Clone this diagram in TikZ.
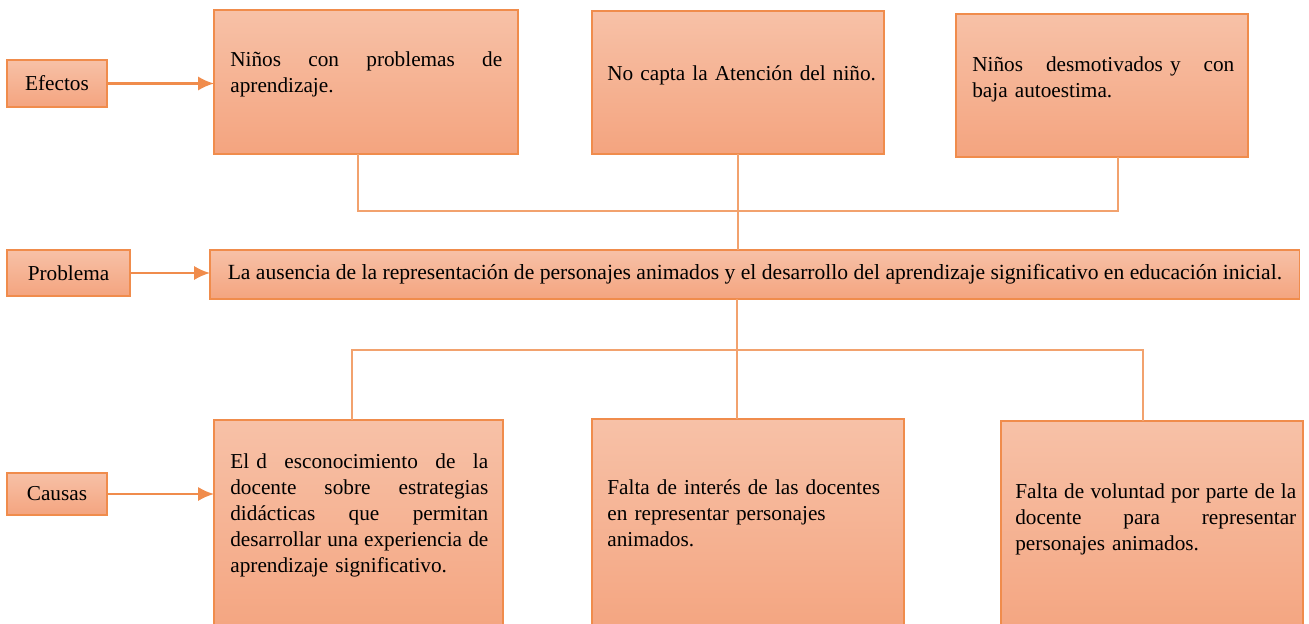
\documentclass[tikz,border=0pt]{standalone}
\usepackage{fontspec}
\setmainfont{Liberation Serif}
\usepackage{xcolor}
\usetikzlibrary{arrows.meta}

\definecolor{boxtop}{HTML}{F7C1A7}
\definecolor{boxbot}{HTML}{F4A47F}
\definecolor{boxline}{HTML}{F08C4C}
\definecolor{linkline}{HTML}{F2A26E}

\newcommand{\jline}[2]{\leavevmode\hbox to #1{#2}}

\tikzset{
	box/.style={draw=boxline,line width=0.7pt,top color=boxtop,bottom color=boxbot,anchor=north west,inner sep=0pt,outer sep=0pt,font=\fontsize{12.1}{14.9}\selectfont},
	txt/.style={anchor=base west,inner sep=0pt,align=left,font=\fontsize{12.1}{14.9}\selectfont},
	arr/.style={draw=boxline,line width=1.2pt,-{Latex[length=9pt,width=8pt]}},
	link/.style={draw=linkline,line width=0.6pt},
}

\begin{document}
\begin{tikzpicture}[x=0.02cm,y=-0.02cm]
	\clip (0,0) rectangle (1309,623);

	% efectos
	\node[box,minimum width=2cm,minimum height=0.94cm] (ef) at (7,60) {Efectos};
	\node[box,minimum width=6.08cm,minimum height=2.88cm] (e1) at (214,10) {};
	\node[box,minimum width=5.84cm,minimum height=2.86cm] (e2) at (592,11) {};
	\node[box,minimum width=5.84cm,minimum height=2.86cm] (e3) at (956,14) {};
	\node[txt,text width=5.44cm] (e1t) at (230,66) {\jline{5.44cm}{Niños\hfill con\hfill problemas\hfill de}\\aprendizaje.};
	\node[txt,text width=5.5cm] (e2t) at (607,80) {No capta la Atención del niño.};
	\node[txt,text width=5.24cm] (e3t) at (972,71) {\jline{5.24cm}{Niños\hfill desmotivados y\hfill con}\\baja autoestima.};

	% problema
	\node[box,minimum width=2.46cm,minimum height=0.92cm] (pr) at (7,250) {Problema};
	\node[box,minimum width=21.8cm,minimum height=0.98cm,font=\fontsize{12.3}{15}\selectfont] (prob) at (210,250) {La ausencia de la representación de personajes animados y el desarrollo del aprendizaje significativo en educación inicial.};

	% causas
	\node[box,minimum width=2cm,minimum height=0.84cm] (ca) at (7,473) {Causas};
	\node[box,minimum width=5.78cm,minimum height=4.4cm] (c1) at (214,420) {};
	\node[box,minimum width=6.24cm,minimum height=4.4cm] (c2) at (592,419) {};
	\node[box,minimum width=6.04cm,minimum height=4.4cm] (c3) at (1001,421) {};
	\node[txt,text width=5.16cm] (c1t) at (230,468) {\jline{5.16cm}{El d\hfill esconocimiento\hfill de\hfill la}\\\jline{5.16cm}{docente\hfill sobre\hfill estrategias}\\\jline{5.16cm}{didácticas\hfill que\hfill permitan}\\\jline{5.16cm}{desarrollar\hfill una\hfill experiencia\hfill de}\\aprendizaje significativo.};
	\node[txt,text width=5.8cm] (c2t) at (607,494) {Falta de interés de las docentes\\en representar personajes\\animados.};
	\node[txt,text width=5.62cm] (c3t) at (1015,498) {\jline{5.62cm}{Falta\hfill de\hfill voluntad\hfill por\hfill parte\hfill de\hfill la}\\\jline{5.62cm}{docente\hfill para\hfill representar}\\personajes animados.};

	\draw[arr] (ef.east) -- (ef.east -| e1.west);
	\draw[arr] (pr.east) -- (pr.east -| prob.west);
	\draw[arr] (ca.east) -- (ca.east -| c1.west);

	\coordinate (jt) at (737,211);
	\coordinate (jb) at (737,350);
	\draw[link] ([xshift=-0.16cm]e1.south) |- (jt) -| ([xshift=0.32cm]e3.south);
	\draw[link] (e2.south) -- (e2.south |- prob.north);
	\draw[link] (prob.south -| jb) -- (jb) -- (jb |- c2.north);
	\draw[link] ([xshift=-0.13cm]c1.north) |- (jb) -| ([xshift=-0.18cm]c3.north);
\end{tikzpicture}
\end{document}
